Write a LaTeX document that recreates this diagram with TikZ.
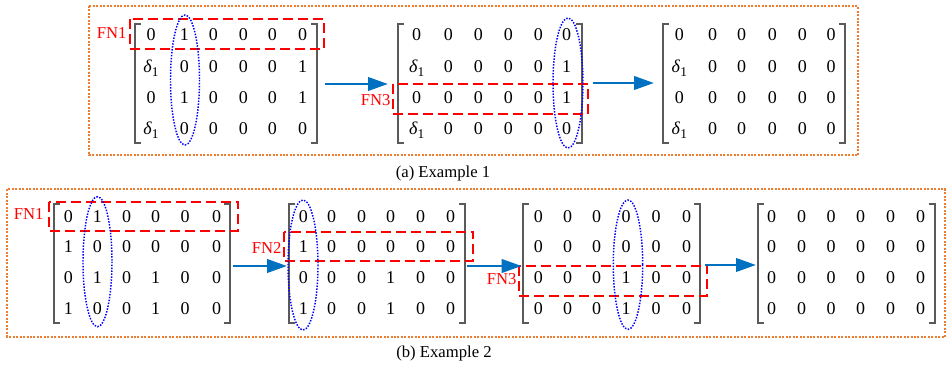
\documentclass[tikz,border=0pt]{standalone}
\usepackage{fontspec}
\setmainfont{Liberation Serif}
\usetikzlibrary{arrows.meta}
\definecolor{orng}{HTML}{ED7D31}
\definecolor{arrowblue}{HTML}{0070C0}
\definecolor{brkgray}{HTML}{5A5A5A}
\newcommand\dlt{\textit{δ}\raisebox{-0.45ex}{\fontsize{10}{10}\selectfont 1}}
\newcommand\mcell[4]{\pgfmathsetmacro\cx{\curcols[#2-1]}\node[cell] (\curname-#1-#2) at (\cx,#3) {#4};}
\newcommand\mrow[8]{\mcell{#1}{1}{#2}{#3}\mcell{#1}{2}{#2}{#4}\mcell{#1}{3}{#2}{#5}\mcell{#1}{4}{#2}{#6}\mcell{#1}{5}{#2}{#7}\mcell{#1}{6}{#2}{#8}}
\newcommand\brks[4]{\draw[brk] (#1+6,#3) -- (#1,#3) -- (#1,#4) -- (#1+6,#4);
  \draw[brk] (#2-6,#3) -- (#2,#3) -- (#2,#4) -- (#2-6,#4);}
\begin{document}
\begin{tikzpicture}[x=0.75pt,y=-0.75pt,
  cell/.style={anchor=base,inner sep=0pt,font=\fontsize{13.5}{14}\selectfont},
  fnlabel/.style={anchor=east,inner sep=1pt,text=red,font=\fontsize{12.5}{13}\selectfont},
  captext/.style={inner sep=0pt,font=\fontsize{12.5}{13}\selectfont},
  fnbox/.style={draw=red,line width=1.4pt,dash pattern=on 7.5pt off 3.75pt},
  colell/.style={draw=blue,line width=1.1pt,dash pattern=on 1.1pt off 1.1pt},
  groupbox/.style={draw=orng,line width=1.5pt,dash pattern=on 1.5pt off 1.1pt},
  brk/.style={draw=brkgray,line width=1.3pt},
  flow/.style={-{Triangle[length=15pt,width=10pt]},draw=arrowblue,line width=2.2pt}]
\useasboundingbox (0,0) rectangle (949,366);

% group boxes
\draw[groupbox] (89.3,6) rectangle (857.7,155.5);
\draw[groupbox] (7.3,189.5) rectangle (945,336.7);

% ===== Example 1 =====
\def\curname{A1}\def\curcols{{151,184.3,213.3,243.3,272.3,302.7}}
\mrow{1}{41}{0}{1}{0}{0}{0}{0}
\mrow{2}{72.5}{\dlt}{0}{0}{0}{0}{1}
\mrow{3}{103.5}{0}{1}{0}{0}{0}{1}
\mrow{4}{134.5}{\dlt}{0}{0}{0}{0}{0}
\brks{135}{317}{24}{143}

\def\curname{A2}\def\curcols{{416.7,448.3,478.3,508.3,538.3,566.7}}
\mrow{1}{41}{0}{0}{0}{0}{0}{0}
\mrow{2}{72.5}{\dlt}{0}{0}{0}{0}{1}
\mrow{3}{103.5}{0}{0}{0}{0}{0}{1}
\mrow{4}{134.5}{\dlt}{0}{0}{0}{0}{0}
\brks{398.3}{581.7}{24}{143}

\def\curname{A3}\def\curcols{{679.3,712.7,741.7,772.3,802.3,831}}
\mrow{1}{41}{0}{0}{0}{0}{0}{0}
\mrow{2}{72.5}{\dlt}{0}{0}{0}{0}{0}
\mrow{3}{103.5}{0}{0}{0}{0}{0}{0}
\mrow{4}{134.5}{\dlt}{0}{0}{0}{0}{0}
\brks{662.7}{845}{24}{143}

\draw[fnbox] (130,19) rectangle (324,49);
\node[fnlabel] (fnA1) at (128,33) {FN1};
\draw[fnbox] (393,84) rectangle (588,114);
\node[fnlabel] (fnA3) at (392,100) {FN3};

\draw[colell] (185,80) ellipse [x radius=14.5, y radius=65];
\draw[colell] (568,83) ellipse [x radius=15, y radius=65];

\coordinate (a12s) at (325,84); \coordinate (a12e) at (388,84);
\coordinate (a23s) at (593,83); \coordinate (a23e) at (654,83);
\draw[flow] (a12s) -- (a12e);
\draw[flow] (a23s) -- (a23e);

\node[captext] (capA) at (443,173) {(a) Example 1};

% ===== Example 2 =====
\def\curname{B1}\def\curcols{{68.3,97.3,126.7,155.7,185,216.7}}
\mrow{1}{223}{0}{1}{0}{0}{0}{0}
\mrow{2}{253}{1}{0}{0}{0}{0}{0}
\mrow{3}{284}{0}{1}{0}{1}{0}{0}
\mrow{4}{314.5}{1}{0}{0}{1}{0}{0}
\brks{54.3}{230}{204}{323}

\def\curname{B2}\def\curcols{{303.3,331.7,361.7,390.7,420.7,450.7}}
\mrow{1}{223}{0}{0}{0}{0}{0}{0}
\mrow{2}{253}{1}{0}{0}{0}{0}{0}
\mrow{3}{284}{0}{0}{0}{1}{0}{0}
\mrow{4}{314.5}{1}{0}{0}{1}{0}{0}
\brks{289.3}{465}{204}{323}

\def\curname{B3}\def\curcols{{538.3,567.7,596.7,626,656,686.7}}
\mrow{1}{223}{0}{0}{0}{0}{0}{0}
\mrow{2}{253}{0}{0}{0}{0}{0}{0}
\mrow{3}{284}{0}{0}{0}{1}{0}{0}
\mrow{4}{314.5}{0}{0}{0}{1}{0}{0}
\brks{523.3}{700}{204}{323}

\def\curname{B4}\def\curcols{{771.7,801.7,831,860.7,890.7,920.7}}
\mrow{1}{223}{0}{0}{0}{0}{0}{0}
\mrow{2}{253}{0}{0}{0}{0}{0}{0}
\mrow{3}{284}{0}{0}{0}{0}{0}{0}
\mrow{4}{314.5}{0}{0}{0}{0}{0}{0}
\brks{758.3}{935}{204}{323}

\draw[fnbox] (49.3,201.7) rectangle (238.3,231);
\node[fnlabel] (fnB1) at (45,214) {FN1};
\draw[fnbox] (284,231.7) rectangle (473,261);
\node[fnlabel] (fnB2) at (283,248) {FN2};
\draw[fnbox] (519,266) rectangle (707.3,296);
\node[fnlabel] (fnB3) at (518,279) {FN3};

\draw[colell] (97.5,261.7) ellipse [x radius=14.5, y radius=65];
\draw[colell] (303,265) ellipse [x radius=15, y radius=65];
\draw[colell] (628,264.7) ellipse [x radius=14.7, y radius=64.7];

\coordinate (b12s) at (233,266); \coordinate (b12e) at (287,266);
\coordinate (b23s) at (467,266); \coordinate (b23e) at (521.7,266);
\coordinate (b34s) at (705,265); \coordinate (b34e) at (756,265);
\draw[flow] (b12s) -- (b12e);
\draw[flow] (b23s) -- (b23e);
\draw[flow] (b34s) -- (b34e);

\node[captext] (capB) at (444,353) {(b) Example 2};
\end{tikzpicture}
\end{document}
